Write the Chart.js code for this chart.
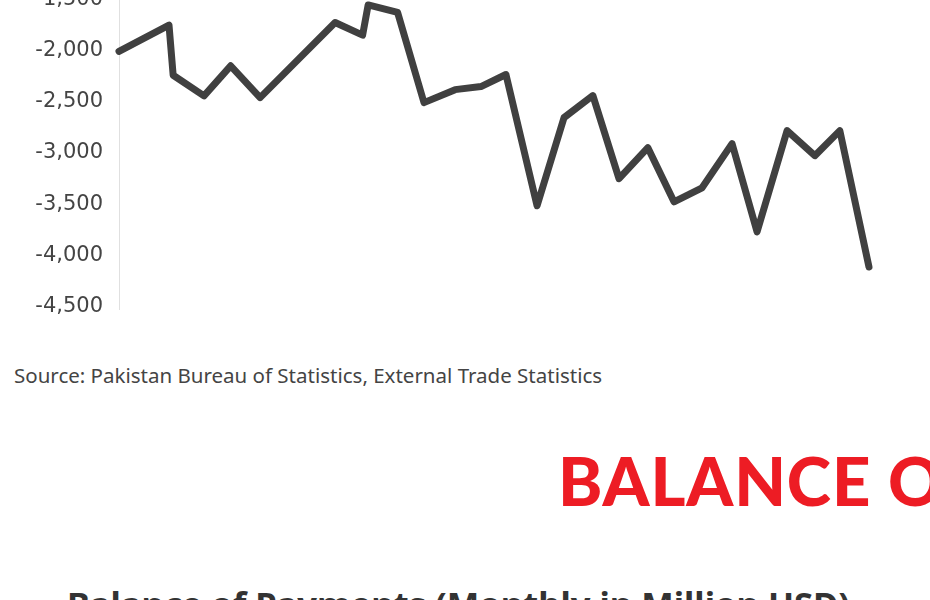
<!DOCTYPE html>
<html>
<head>
<meta charset="utf-8">
<script src="https://cdn.jsdelivr.net/npm/chart.js@4/dist/chart.umd.min.js"></script>
<style>
  html, body { margin: 0; padding: 0; background: #fff; }
  #page { position: relative; width: 930px; height: 600px; overflow: hidden; background: #fff; }
  #chart-box { position: absolute; left: 0; top: -80px; width: 930px; height: 418px; }
  .source { position: absolute; left: 14px; top: 365px; font-family: "Noto Sans", sans-serif; font-size: 20.5px; line-height: 20px; color: #444; white-space: nowrap; }
  .banner { position: absolute; left: 558px; top: 447px; font-family: Lato, sans-serif; font-weight: 900; font-size: 67px; line-height: 67px; color: #ed1c24; white-space: nowrap; }
  .title { position: absolute; left: 67px; top: 587px; font-family: "Noto Sans", sans-serif; font-weight: 700; font-size: 34.5px; line-height: 34px; color: #333; white-space: nowrap; }
</style>
</head>
<body>
<div id="page">
  <div id="chart-box"><canvas id="bopChart" width="930" height="418"></canvas></div>
  <div class="source">Source: Pakistan Bureau of Statistics, External Trade Statistics</div>
  <div class="banner"><span class="head">BALANCE </span>OF PAYMENTS</div>
  <div class="title">Balance of Payments (Monthly in Million USD)</div>
</div>
<script>
// position of each reading along the time axis (months from first reading)
const monthPos = [0, 1.8, 1.95, 3.06, 4.02, 5.08, 7.78, 8.77, 8.97, 10.03, 10.98, 12.1, 13.03, 13.93,
  15.05, 16.02, 17.06, 18.0, 19.04, 19.98, 20.99, 22.07, 22.97, 24.05, 25.05, 25.95, 27.0];

// monthly balance, million USD
const balance = [-2005, -1749, -2239, -2441, -2147, -2458, -1723, -1847, -1551, -1625, -2507, -2380, -2350, -2232,
  -3516, -2654, -2438, -3251, -2948, -3477, -3340, -2908, -3771, -2781, -3026, -2781, -4115];

const yTicks = [-1000, -1500, -2000, -2500, -3000, -3500, -4000, -4500];

const points = monthPos.map((m, i) => ({ x: m, y: balance[i] }));

// squeeze the banner so "BALANCE " is as wide as in the original page
const banner = document.querySelector('.banner');
const headWidth = banner.querySelector('.head').getBoundingClientRect().width;
banner.style.letterSpacing = ((330 - headWidth) / 8) + 'px';

const ctx = document.getElementById('bopChart').getContext('2d');
new Chart(ctx, {
  type: 'line',
  data: {
    datasets: [{
      label: 'Balance',
      data: points,
      borderColor: '#404040',
      borderWidth: 7,
      pointRadius: 0,
      tension: 0,
      borderCapStyle: 'round',
      borderJoinStyle: 'round',
      fill: false,
      clip: false
    }]
  },
  options: {
    responsive: false,
    animation: false,
    devicePixelRatio: 1,
    layout: { padding: { left: 0, right: 61, top: 0, bottom: 0 } },
    plugins: { legend: { display: false }, tooltip: { enabled: false } },
    scales: {
      x: {
        type: 'linear',
        min: 0,
        max: 27,
        display: false
      },
      y: {
        min: -4530,
        max: -1000,
        afterBuildTicks: scale => { scale.ticks = yTicks.map(v => ({ value: v })); },
        afterFit: scale => { scale.width = 119; },
        grid: { display: false, drawTicks: false },
        border: { display: true, color: '#e0e0e0', width: 1 },
        ticks: {
          padding: 16,
          color: '#444',
          font: { family: 'DejaVu Sans', size: 21 },
          callback: v => v.toLocaleString('en-US')
        }
      }
    }
  }
});
</script>
</body>
</html>
